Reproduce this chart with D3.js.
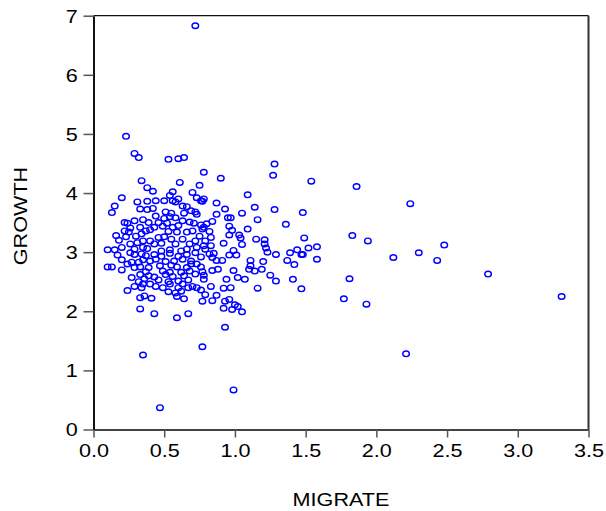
<!DOCTYPE html>
<html>
<head>
<meta charset="utf-8">
<script src="https://cdn.jsdelivr.net/npm/d3@7"></script>
<style>
  html, body { margin: 0; padding: 0; background: #fff; }
  text { font-family: "Liberation Sans", Arial, sans-serif; }
</style>
</head>
<body>
<div id="chart"></div>
<script>
// --------------------
// DATA
// --------------------
const xTicks = [0, 0.5, 1, 1.5, 2, 2.5, 3, 3.5];
const yTicks = [0, 1, 2, 3, 4, 5, 6, 7];

const migrate = [
  0.72,0.23,0.29,0.32,0.53,0.60,0.64,0.78,0.90,1.28,
  1.27,1.54,1.86,2.24,1.48,1.36,1.83,1.94,2.48,1.49,
  1.44,1.39,1.52,1.58,1.48,1.47,1.37,1.42,1.58,2.12,
  2.30,2.43,2.79,3.31,1.81,1.41,1.47,1.77,1.93,2.21,
  0.35,0.77,0.93,0.99,0.47,
  0.34,0.61,0.38,0.42,0.56,0.54,0.70,0.20,0.31,0.38,
  0.44,0.50,0.56,0.60,0.58,0.15,0.13,0.33,0.38,0.42,
  0.51,0.55,0.63,0.66,0.64,0.69,0.44,0.50,0.54,0.58,
  0.63,0.35,0.29,0.22,0.24,0.39,0.46,0.52,0.60,0.68,
  0.33,0.26,0.43,0.49,0.56,0.37,0.40,0.53,0.59,0.66,
  0.22,0.25,0.34,0.30,0.16,0.23,0.46,0.50,0.55,0.63,
  0.18,0.35,0.40,0.26,0.31,0.43,0.48,0.58,0.68,0.20,
  0.15,0.10,0.29,0.35,0.38,0.48,0.54,0.62,0.66,
  0.75,0.73,0.76,0.78,0.77,1.09,0.87,1.14,0.93,1.28,
  0.87,0.72,0.73,1.05,0.95,0.97,1.16,0.84,0.80,0.76,
  0.71,0.96,0.77,0.78,0.98,1.09,0.70,0.82,1.03,0.96,
  1.04,0.75,0.83,1.15,1.21,0.72,0.79,0.92,1.05,1.21,
  0.78,0.83,0.73,0.79,0.99,1.22,1.23,0.72,0.85,0.96,
  1.01,1.29,
  0.17,0.26,0.29,0.34,0.37,0.43,0.48,0.54,0.60,0.66,
  0.20,0.24,0.27,0.32,0.35,0.40,0.44,0.51,0.57,0.63,
  0.69,0.10,0.13,0.20,0.29,0.33,0.39,0.47,0.55,0.59,
  0.66,0.37,0.49,0.54,0.62,0.68,0.33,0.39,0.43,0.51,
  0.56,0.64,0.27,0.36,0.46,0.53,0.60,0.67,0.32,0.35,
  0.40,0.54,0.63,0.29,0.34,0.44,0.49,0.60,0.67,0.24,
  0.53,0.58,0.62,0.33,0.36,0.41,0.59,0.64,0.33,0.43,
  0.59,0.67,
  0.76,0.82,0.84,0.69,0.73,0.76,0.87,0.91,0.88,0.84,
  1.11,1.20,1.11,1.10,1.19,1.14,0.99,0.77,0.72,0.78,
  0.78,1.02,1.07,1.25,1.29,0.94,0.70,0.73,0.76,0.83,
  0.92,0.97,1.16,0.79,0.87,0.77,0.84,0.93,0.96,1.00,
  1.02,0.92,0.98,1.05
];

const growth = [
  6.83,4.96,4.67,4.60,4.57,4.58,4.60,4.35,4.25,4.49,
  4.30,4.20,4.11,3.82,3.67,3.47,3.28,3.19,3.12,3.24,
  3.04,2.99,3.07,3.09,2.96,2.96,2.86,2.79,2.88,2.91,
  2.99,2.86,2.63,2.25,2.55,2.54,2.38,2.21,2.12,1.28,
  1.26,1.40,1.73,0.67,0.37,
  4.21,4.18,4.09,4.03,4.02,3.96,4.01,3.92,3.85,3.86,
  3.87,3.87,3.87,3.90,3.85,3.78,3.67,3.73,3.72,3.74,
  3.68,3.66,3.78,3.77,3.66,3.70,3.61,3.57,3.60,3.58,
  3.53,3.55,3.53,3.50,3.49,3.50,3.50,3.49,3.45,3.51,
  3.42,3.41,3.42,3.44,3.42,3.36,3.38,3.35,3.34,3.34,
  3.36,3.34,3.31,3.27,3.28,3.26,3.25,3.26,3.22,3.22,
  3.20,3.19,3.19,3.14,3.16,3.14,3.15,3.14,3.14,3.08,
  3.04,3.04,3.05,3.08,3.06,3.02,3.04,3.02,3.05,
  4.13,3.92,3.87,3.90,3.86,3.97,3.83,3.76,3.73,3.72,
  3.64,3.68,3.64,3.66,3.58,3.58,3.55,3.52,3.48,3.46,
  3.49,3.44,3.39,3.42,3.37,3.39,3.36,3.35,3.29,3.29,
  3.24,3.27,3.25,3.22,3.21,3.19,3.19,3.15,3.13,3.14,
  3.11,3.11,3.08,3.05,3.03,3.07,3.00,2.99,2.98,2.95,
  2.95,2.96,
  2.95,2.99,2.96,2.97,2.94,2.96,2.93,2.98,2.93,2.96,
  2.87,2.80,2.83,2.83,2.87,2.85,2.88,2.84,2.85,2.88,
  2.85,2.75,2.75,2.70,2.74,2.75,2.74,2.77,2.78,2.75,
  2.74,2.67,2.68,2.66,2.66,2.68,2.62,2.60,2.58,2.62,
  2.59,2.60,2.57,2.55,2.53,2.50,2.51,2.53,2.50,2.46,
  2.46,2.46,2.46,2.42,2.40,2.42,2.40,2.40,2.40,2.35,
  2.33,2.31,2.34,2.23,2.26,2.22,2.25,2.21,2.04,1.96,
  1.89,1.96,
  2.92,2.97,2.91,2.80,2.80,2.75,2.86,2.86,2.71,2.69,
  2.86,2.84,2.77,2.71,2.71,2.68,2.69,2.67,2.63,2.61,
  2.54,2.57,2.54,2.61,2.51,2.54,2.42,2.40,2.36,2.42,
  2.39,2.40,2.39,2.28,2.27,2.17,2.18,2.17,2.20,2.11,
  2.08,2.05,2.03,1.99
];

const points = migrate.map((m, i) => ({ migrate: m, growth: growth[i] }));

// --------------------
// CHART
// --------------------
const width = 606;
const height = 511;
const plotLeft = 93.5, plotRight = 588.5, plotTop = 15.7, plotBottom = 429.5;
const stretch = 1.2;   // the original lettering is drawn wide

const svg = d3.select("#chart")
  .append("svg")
  .attr("width", width)
  .attr("height", height);

const x = d3.scaleLinear()
  .domain([0, 3.5])
  .range([plotLeft, plotRight]);

const y = d3.scaleLinear()
  .domain([0, 7])
  .range([plotBottom, plotTop]);

// frame (top + right)
svg.append("line")
  .attr("x1", plotLeft).attr("x2", plotRight)
  .attr("y1", plotTop).attr("y2", plotTop)
  .attr("stroke", "#111").attr("stroke-width", 1.2);

svg.append("line")
  .attr("x1", plotRight).attr("x2", plotRight)
  .attr("y1", plotTop).attr("y2", plotBottom)
  .attr("stroke", "#333").attr("stroke-width", 2);

// points
svg.append("g")
  .selectAll("ellipse")
  .data(points)
  .join("ellipse")
  .attr("cx", d => x(d.migrate))
  .attr("cy", d => y(d.growth))
  .attr("rx", 3.3)
  .attr("ry", 2.8)
  .attr("fill", "none")
  .attr("stroke", "#0000ff")
  .attr("stroke-width", 1.4);

// Axes
const xAxis = svg.append("g")
  .attr("transform", `translate(0,${plotBottom})`)
  .call(d3.axisBottom(x)
    .tickValues(xTicks)
    .tickFormat(d3.format(".1f"))
    .tickSize(8)
    .tickSizeOuter(0)
    .tickPadding(7));

const yAxis = svg.append("g")
  .attr("transform", `translate(${plotLeft},0)`)
  .call(d3.axisLeft(y)
    .tickValues(yTicks)
    .tickFormat(d3.format("d"))
    .tickSize(10)
    .tickSizeOuter(0));

xAxis.select(".domain").attr("stroke", "#444").attr("stroke-width", 2);
yAxis.select(".domain").attr("stroke", "#111").attr("stroke-width", 2);
svg.selectAll(".tick line").attr("stroke", "#555").attr("stroke-width", 1.5);

svg.selectAll(".tick text")
  .attr("fill", "#000")
  .style("font-size", "18px")
  .style("font-family", "'Liberation Sans', Arial, sans-serif");

xAxis.selectAll(".tick text")
  .attr("transform", `scale(${stretch},1)`);

yAxis.selectAll(".tick text")
  .attr("x", -15.7 / stretch)
  .attr("dy", "0.35em")
  .attr("transform", `scale(${stretch},1)`);

// axis titles
svg.append("text")
  .attr("transform", `translate(341,506) scale(${stretch},1)`)
  .attr("text-anchor", "middle")
  .style("font-size", "18px")
  .text("MIGRATE");

svg.append("text")
  .attr("transform", `translate(27,216) rotate(-90) scale(${stretch},1)`)
  .attr("text-anchor", "middle")
  .style("font-size", "18px")
  .text("GROWTH");
</script>
</body>
</html>
